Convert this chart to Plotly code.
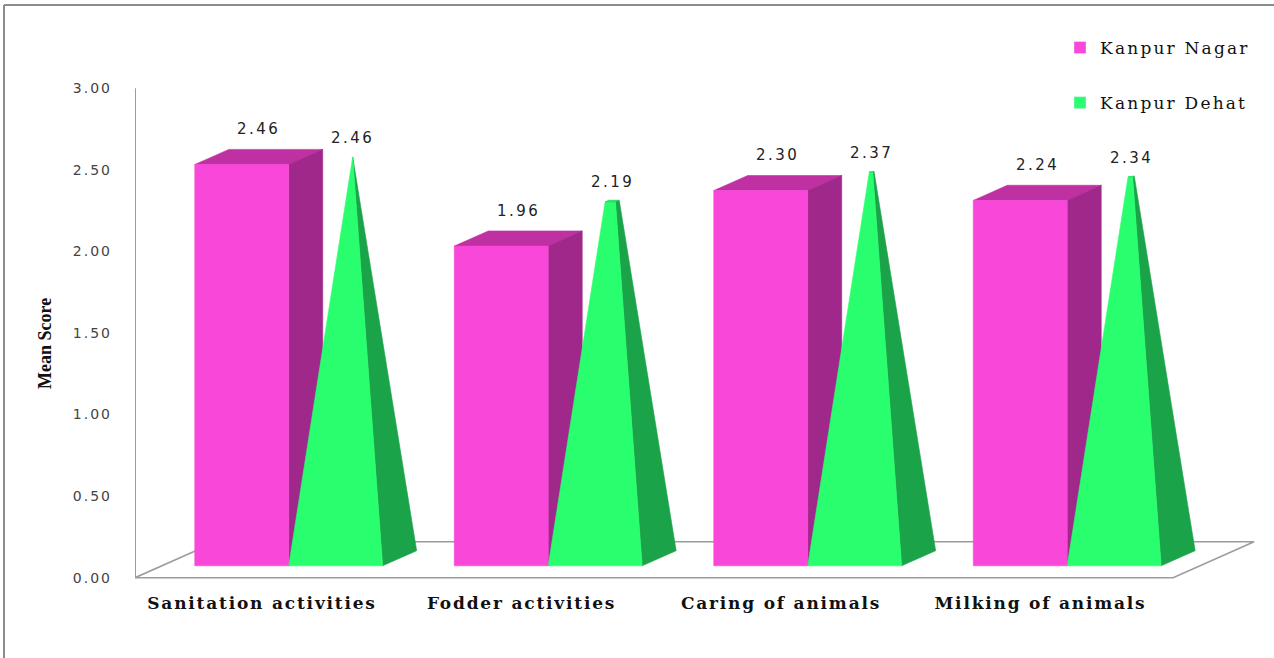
import plotly.graph_objects as go

# ---- data ----
categories = ["Sanitation activities", "Fodder activities", "Caring of animals", "Milking of animals"]
series_names = ["Kanpur Nagar", "Kanpur Dehat"]
kanpur_nagar = [2.46, 1.96, 2.30, 2.24]
kanpur_dehat = [2.46, 2.19, 2.37, 2.34]
y_tick_vals = [0.0, 0.5, 1.0, 1.5, 2.0, 2.5, 3.0]
y_tick_text = ["0.00", "0.50", "1.00", "1.50", "2.00", "2.50", "3.00"]

# ---- page / plot-area geometry (pixels) ----
FIG_W, FIG_H = 1274, 658
PL, PR, PT, PB = 135, 1262, 72, 594
Y_RANGE = [-0.1, 3.1]
X_RANGE = [-0.4894, 3.8536]

# ---- oblique 3-D projection (data units) ----
BAR_W = 0.362          # width of a column / pyramid base
DEPTH_DX = 0.312       # full floor depth, horizontal component
DEPTH_DY = 0.2207      # full floor depth, vertical component
ZF, ZB = 0.33, 0.75    # front / back depth of the columns
ZC = (ZF + ZB) / 2
FLOOR_LEFT = -0.4894
FLOOR_RIGHT = len(categories) - 1 + 0.511

PINK_FRONT, PINK_SIDE, PINK_TOP = "#F947D9", "#A0288A", "#BF31A2"
GREEN_FRONT, GREEN_SIDE, GREEN_TOP = "#29FF6E", "#1BA34A", "#20D45C"
GRID_GRAY = "#9C9C9C"


def proj(x, y, z):
    return x + z * DEPTH_DX, y + z * DEPTH_DY


def px_x(p):
    return (p - PL) / (PR - PL)


def px_y(p):
    return (PB - p) / (PB - PT)


def add_faces(xs, ys, face):
    for (x, y, z) in face + [face[0]]:
        px, py = proj(x, y, z)
        xs.append(px)
        ys.append(py)
    xs.append(None)
    ys.append(None)


fig = go.Figure()

# floor
floor = [(FLOOR_LEFT, 0, 0), (FLOOR_RIGHT, 0, 0), (FLOOR_RIGHT, 0, 1), (FLOOR_LEFT, 0, 1)]
fx, fy = [], []
add_faces(fx, fy, floor)
fig.add_trace(go.Scatter(x=fx, y=fy, mode="lines", fill="toself", fillcolor="white",
                         line=dict(color=GRID_GRAY, width=1.6), hoverinfo="skip", showlegend=False))

# value axis line
fig.add_trace(go.Scatter(x=[FLOOR_LEFT, FLOOR_LEFT], y=[0, y_tick_vals[-1]], mode="lines",
                         line=dict(color=GRID_GRAY, width=2), hoverinfo="skip", showlegend=False))

# columns (Kanpur Nagar)
pf, ps, pt = ([], []), ([], []), ([], [])
for i, v in enumerate(kanpur_nagar):
    x0, x1 = i - BAR_W, i
    add_faces(*pt, [(x0, v, ZF), (x1, v, ZF), (x1, v, ZB), (x0, v, ZB)])
    add_faces(*ps, [(x1, 0, ZF), (x1, 0, ZB), (x1, v, ZB), (x1, v, ZF)])
    add_faces(*pf, [(x0, 0, ZF), (x1, 0, ZF), (x1, v, ZF), (x0, v, ZF)])
for (xs, ys), col in ((pt, PINK_TOP), (ps, PINK_SIDE), (pf, PINK_FRONT)):
    fig.add_trace(go.Scatter(x=xs, y=ys, mode="lines", fill="toself", fillcolor=col,
                             line=dict(color=col, width=0.6), hoverinfo="skip", showlegend=False))

# truncated pyramids (Kanpur Dehat), apex at the series maximum
apex = max(kanpur_dehat)
gf, gs, gt = ([], []), ([], []), ([], [])
for i, v in enumerate(kanpur_dehat):
    x0, x1 = i, i + BAR_W
    xc = i + BAR_W / 2
    s = 1 - v / apex
    hw, hd = s * BAR_W / 2, s * (ZB - ZF) / 2
    add_faces(*gs, [(x1, 0, ZF), (x1, 0, ZB), (xc + hw, v, ZC + hd), (xc + hw, v, ZC - hd)])
    add_faces(*gf, [(x0, 0, ZF), (x1, 0, ZF), (xc + hw, v, ZC - hd), (xc - hw, v, ZC - hd)])
    if s > 0:
        add_faces(*gt, [(xc - hw, v, ZC - hd), (xc + hw, v, ZC - hd),
                        (xc + hw, v, ZC + hd), (xc - hw, v, ZC + hd)])
for (xs, ys), col in ((gs, GREEN_SIDE), (gf, GREEN_FRONT), (gt, GREEN_TOP)):
    if xs:
        fig.add_trace(go.Scatter(x=xs, y=ys, mode="lines", fill="toself", fillcolor=col,
                                 line=dict(color=col, width=0.6), hoverinfo="skip", showlegend=False))

# legend entries
LEG_FONT = dict(family="DejaVu Serif", size=17, color="#111")
for name, col in zip(series_names, (PINK_FRONT, GREEN_FRONT)):
    fig.add_trace(go.Bar(x=[None], y=[None], marker_color=col, legendgroup=name,
                         name=f'<span style="letter-spacing:2.2px">{name}</span>'))

# value labels
annotations = []
for i, v in enumerate(kanpur_nagar):
    x, y = proj(i - BAR_W / 2, v, ZC)
    annotations.append(dict(x=x, y=y, xref="x", yref="y", text=f'<span style="letter-spacing:2.5px">{v:.2f}</span>',
                            showarrow=False, yanchor="middle", yshift=28,
                            font=dict(family="DejaVu Sans", size=15, color="#222")))
for i, v in enumerate(kanpur_dehat):
    x, y = proj(i + BAR_W / 2, v, ZC)
    annotations.append(dict(x=x, y=y, xref="x", yref="y", text=f'<span style="letter-spacing:2.5px">{v:.2f}</span>',
                            showarrow=False, yanchor="middle", yshift=19,
                            font=dict(family="DejaVu Sans", size=15, color="#222")))

# value-axis title
annotations.append(dict(x=px_x(45), y=px_y(344), xref="paper", yref="paper", text="<b>Mean Score</b>",
                        textangle=-90, showarrow=False, xanchor="center", yanchor="middle",
                        font=dict(family="Liberation Serif", size=18, color="#111")))

# outer frame (top and left edges)
shapes = [
    dict(type="line", xref="paper", yref="paper", x0=px_x(4), x1=px_x(1280), y0=px_y(5), y1=px_y(5),
         line=dict(color="#8C8C8C", width=2)),
    dict(type="line", xref="paper", yref="paper", x0=px_x(4), x1=px_x(4), y0=px_y(5), y1=px_y(665),
         line=dict(color="#8C8C8C", width=2)),
]

fig.update_layout(
    width=FIG_W, height=FIG_H,
    margin=dict(l=PL, r=FIG_W - PR, t=PT, b=FIG_H - PB, pad=0),
    paper_bgcolor="white", plot_bgcolor="white",
    xaxis=dict(range=X_RANGE, showgrid=False, zeroline=False, showline=False,
               tickvals=list(range(len(categories))),
               ticktext=[f'<span style="letter-spacing:1.8px">{c}</span>' for c in categories],
               tickfont=dict(family="DejaVu Serif", size=17, color="#111", weight="bold"),
               ticks="", ticklabelstandoff=-3, fixedrange=True),
    yaxis=dict(range=Y_RANGE, showgrid=False, zeroline=False, showline=False,
               tickvals=y_tick_vals,
               ticktext=[f'<span style="letter-spacing:2px">{t}</span>' for t in y_tick_text],
               tickfont=dict(family="DejaVu Sans", size=14, color="#444"),
               ticks="", ticklabelstandoff=22, fixedrange=True),
    showlegend=True,
    legend=dict(x=px_x(1060), y=px_y(30), xanchor="left", yanchor="top",
                traceorder="grouped", tracegroupgap=30, font=LEG_FONT,
                bgcolor="rgba(0,0,0,0)"),
    annotations=annotations,
    shapes=shapes,
)

fig.write_html("out.html")
